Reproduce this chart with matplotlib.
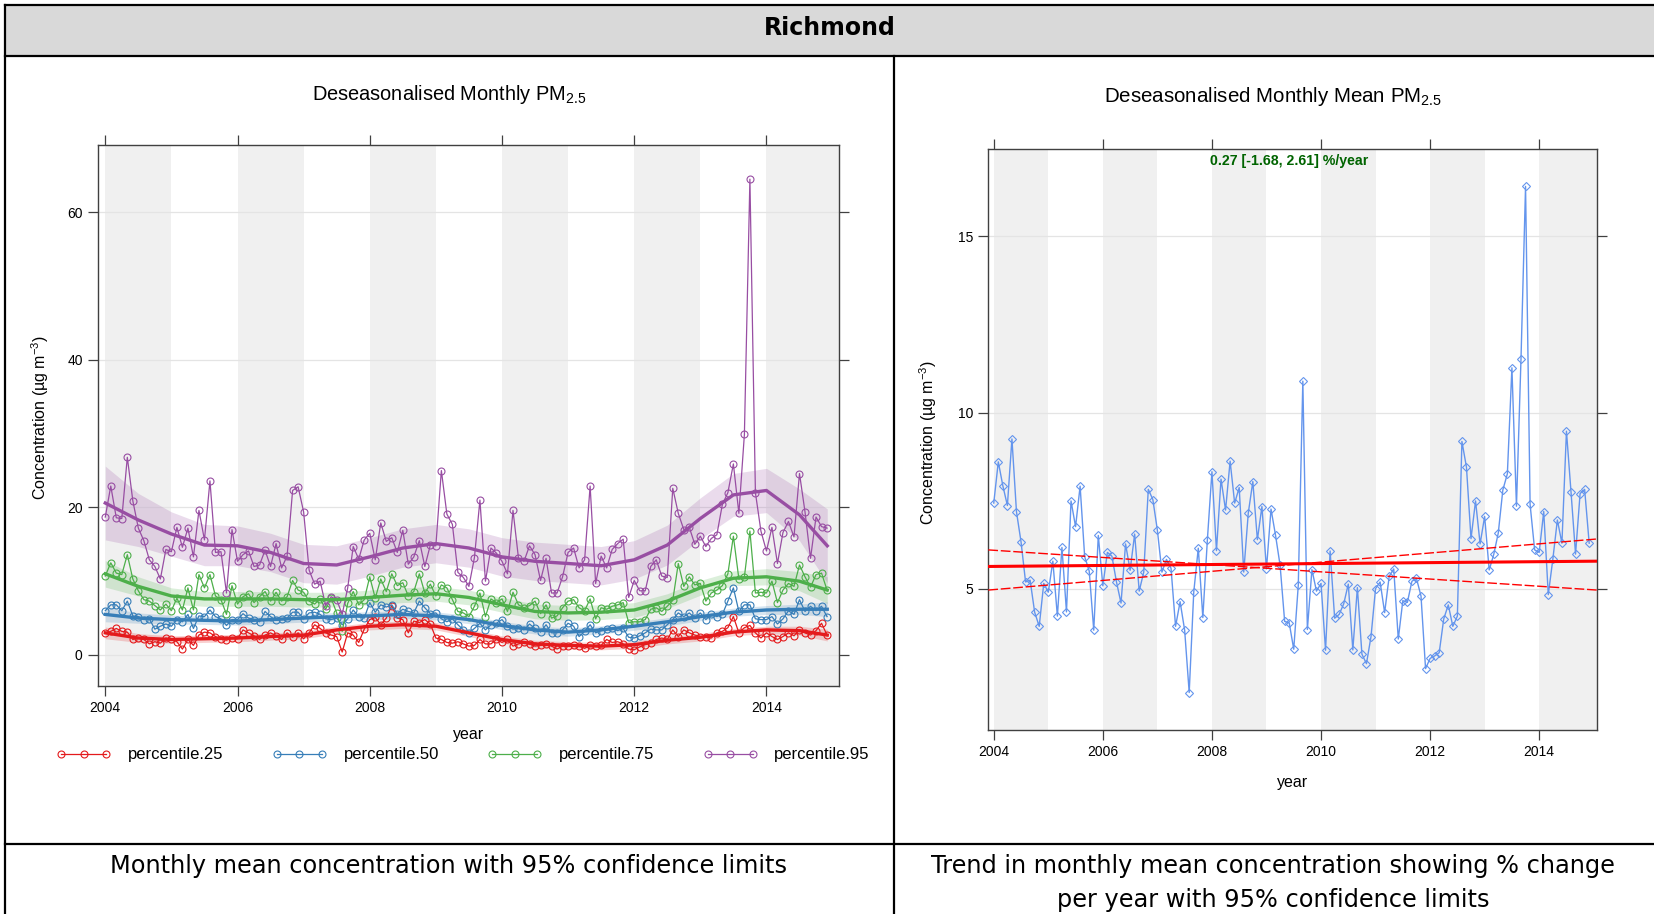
import numpy as np
import matplotlib.pyplot as plt
from matplotlib.lines import Line2D
from matplotlib.patches import Rectangle

plt.rcParams['font.family'] = ['Liberation Sans', 'DejaVu Sans']
plt.rcParams['mathtext.default'] = 'regular'

W, H = 1654, 914

site = "Richmond"
start_year = 2004

# monthly deseasonalised percentiles (ug/m3), Jan 2004 .. Dec 2014
p25 = [3.0, 3.2, 3.6, 3.2, 3.1, 2.1, 2.3, 2.1, 1.5, 1.8, 1.6, 2.3,
       2.1, 1.8, 0.8, 2.1, 1.3, 2.7, 3.1, 3.0, 2.5, 2.2, 2.0, 2.3,
       2.2, 3.4, 3.0, 2.6, 2.1, 2.7, 3.0, 2.6, 2.1, 3.0, 2.4, 3.0,
       2.2, 3.0, 4.1, 3.6, 3.0, 2.7, 2.5, 0.4, 3.0, 2.7, 1.7, 3.5,
       4.8, 5.1, 4.1, 5.0, 6.7, 5.0, 4.8, 3.0, 4.6, 4.4, 4.8, 4.2,
       2.3, 2.1, 1.7, 1.6, 1.8, 1.5, 1.2, 1.3, 2.1, 1.5, 1.5, 2.1,
       1.7, 2.1, 1.2, 1.5, 1.7, 1.5, 1.2, 1.3, 1.5, 1.2, 0.8, 1.2,
       1.2, 1.4, 1.2, 0.9, 1.3, 1.2, 1.3, 2.1, 1.7, 1.8, 1.5, 0.8,
       0.7, 1.1, 1.4, 1.6, 2.1, 2.3, 2.1, 3.4, 2.5, 3.4, 3.0, 2.7,
       2.5, 2.4, 2.3, 3.0, 3.2, 3.7, 5.2, 3.0, 3.7, 4.0, 3.0, 2.3,
       3.0, 2.5, 2.1, 2.5, 3.0, 2.6, 3.4, 3.0, 2.7, 3.3, 4.3, 2.7]
p50 = [6.0, 6.8, 6.8, 6.0, 7.3, 5.3, 5.2, 4.8, 4.9, 3.5, 3.9, 4.2,
       3.9, 4.8, 4.5, 5.5, 3.6, 5.3, 5.2, 6.1, 5.2, 4.9, 4.0, 4.8,
       4.8, 5.6, 5.0, 4.8, 4.5, 5.9, 5.2, 4.7, 4.9, 5.0, 5.8, 5.8,
       4.9, 5.7, 5.8, 5.5, 4.9, 4.8, 5.0, 4.1, 4.9, 6.1, 5.2, 5.0,
       7.1, 5.8, 6.8, 6.5, 6.8, 5.6, 6.2, 5.9, 5.7, 7.3, 6.4, 5.6,
       5.7, 4.9, 4.5, 4.9, 4.1, 3.4, 3.0, 3.6, 4.3, 3.4, 4.1, 4.3,
       4.8, 3.9, 3.5, 3.6, 3.4, 4.2, 3.6, 3.1, 4.1, 3.0, 3.0, 3.4,
       4.3, 3.9, 2.5, 3.2, 4.1, 3.0, 3.3, 3.5, 3.6, 3.3, 3.6, 2.4,
       2.3, 2.6, 3.0, 3.5, 3.4, 3.4, 4.1, 4.8, 5.7, 5.2, 5.7, 5.0,
       5.7, 4.8, 5.5, 5.2, 5.5, 7.3, 9.1, 5.9, 6.8, 6.8, 4.9, 4.8,
       4.8, 5.2, 4.2, 4.9, 6.0, 5.5, 7.5, 5.9, 6.6, 6.0, 6.6, 5.2]
p75 = [10.7, 12.5, 11.1, 10.9, 13.6, 10.3, 8.7, 7.5, 7.3, 6.7, 6.1, 6.9,
       6.0, 7.7, 6.1, 9.1, 6.1, 10.9, 9.1, 10.9, 8.0, 7.5, 5.5, 9.4,
       6.9, 7.9, 8.3, 7.1, 7.9, 8.6, 7.3, 8.5, 7.3, 7.9, 10.1, 8.8,
       8.5, 7.3, 6.9, 7.6, 6.2, 7.7, 5.7, 3.2, 7.0, 8.6, 6.8, 7.5,
       10.6, 7.7, 10.3, 8.6, 11.0, 9.4, 9.8, 8.0, 8.6, 11.0, 8.4, 9.6,
       8.0, 9.5, 9.1, 7.5, 5.9, 5.7, 5.2, 6.6, 8.4, 5.2, 7.6, 7.1,
       7.6, 5.9, 8.5, 6.8, 6.4, 6.7, 7.3, 5.6, 6.8, 5.0, 5.3, 6.4,
       7.3, 7.5, 6.4, 6.0, 7.6, 4.9, 6.4, 6.2, 6.6, 6.8, 7.1, 4.4,
       4.5, 4.5, 4.8, 6.2, 6.4, 5.9, 6.6, 7.4, 12.4, 9.3, 10.6, 9.5,
       9.7, 7.3, 8.4, 8.8, 9.4, 11.0, 16.1, 10.3, 10.6, 16.8, 8.4, 8.5,
       8.4, 10.0, 7.1, 8.8, 9.7, 9.3, 12.2, 10.6, 9.2, 10.9, 11.1, 8.8]
p95 = [18.7, 22.9, 18.6, 18.5, 26.8, 20.9, 17.2, 15.5, 12.9, 12.0, 10.3, 14.3,
       14.0, 17.3, 14.6, 17.2, 13.3, 19.6, 15.6, 23.6, 13.9, 14.0, 8.4, 17.0,
       12.7, 13.6, 14.1, 12.0, 12.2, 14.2, 12.0, 15.1, 11.8, 13.4, 22.3, 22.8,
       19.4, 11.5, 9.6, 10.0, 6.7, 7.9, 7.5, 5.5, 9.1, 14.7, 13.0, 15.6,
       16.5, 12.9, 17.9, 15.4, 15.9, 13.9, 16.9, 12.3, 13.3, 15.5, 12.0, 14.9,
       14.8, 25.0, 19.1, 17.7, 11.2, 10.5, 9.3, 13.2, 21.0, 10.0, 14.5, 13.8,
       12.7, 11.0, 19.6, 13.1, 12.7, 14.8, 13.6, 10.1, 13.1, 8.4, 8.4, 10.6,
       13.9, 14.5, 11.8, 12.9, 22.9, 9.7, 13.4, 11.8, 14.3, 15.1, 15.7, 7.8,
       10.1, 8.7, 8.7, 12.0, 12.9, 10.7, 10.5, 22.6, 19.2, 17.0, 17.3, 15.0,
       16.1, 14.7, 15.8, 16.3, 20.4, 22.0, 25.9, 19.2, 29.9, 64.5, 22.0, 16.8,
       14.1, 17.3, 12.4, 16.6, 18.1, 16.0, 24.6, 19.4, 13.1, 18.7, 17.4, 17.2]

# smooth trend of each percentile, read at half-year steps, with band half widths
knot_years = [2004.0, 2004.5, 2005.0, 2005.5, 2006.0, 2006.5, 2007.0, 2007.5,
              2008.0, 2008.5, 2009.0, 2009.5, 2010.0, 2010.5, 2011.0, 2011.5,
              2012.0, 2012.5, 2013.0, 2013.5, 2014.0, 2014.5, 2014.92]
p25_smooth = [3.0, 2.3, 2.1, 2.2, 2.3, 2.5, 2.7, 3.4, 3.9, 4.1, 3.9, 3.0,
              2.1, 1.5, 1.3, 1.2, 1.4, 2.0, 2.4, 3.1, 3.4, 3.3, 2.7]
p50_smooth = [5.5, 5.0, 4.8, 4.7, 4.6, 4.8, 5.0, 5.2, 5.3, 5.5, 5.3, 4.8,
              4.0, 3.4, 3.1, 3.4, 3.9, 4.5, 5.2, 5.8, 6.1, 6.2, 6.2]
p75_smooth = [11.0, 9.3, 8.0, 7.6, 7.6, 7.6, 7.5, 7.5, 7.8, 8.1, 8.3, 7.8,
              6.8, 5.9, 5.7, 5.8, 6.1, 7.3, 9.1, 10.4, 10.6, 10.0, 8.8]
p95_smooth = [20.6, 18.3, 16.4, 14.9, 14.8, 13.9, 12.4, 12.2, 13.3, 14.5, 15.1, 14.5,
              13.3, 12.7, 12.4, 12.1, 12.9, 14.9, 18.5, 21.7, 22.3, 19.0, 14.8]
p25_band = [0.8, 0.6, 0.5, 0.5, 0.5, 0.5, 0.5, 0.5, 0.5, 0.5, 0.5, 0.5,
            0.5, 0.5, 0.5, 0.5, 0.5, 0.5, 0.5, 0.5, 0.5, 0.6, 0.8]
p50_band = [1.0, 0.7, 0.6, 0.55, 0.55, 0.55, 0.55, 0.55, 0.55, 0.55, 0.55, 0.55,
            0.55, 0.55, 0.55, 0.55, 0.55, 0.55, 0.55, 0.55, 0.6, 0.7, 1.0]
p75_band = [1.8, 1.3, 1.1, 1.0, 1.0, 1.0, 1.0, 1.0, 1.0, 1.0, 1.0, 1.0,
            1.0, 1.0, 1.0, 1.0, 1.0, 1.0, 1.0, 1.0, 1.1, 1.3, 1.8]
p95_band = [5.0, 3.6, 3.0, 2.8, 2.7, 2.6, 2.6, 2.6, 2.6, 2.6, 2.6, 2.6,
            2.6, 2.6, 2.6, 2.6, 2.6, 2.7, 2.8, 2.9, 3.0, 3.5, 5.0]

# deseasonalised monthly mean
mean_conc = [7.43, 8.60, 7.92, 7.36, 9.25, 7.18, 6.33, 5.19, 5.24, 4.33, 3.93, 5.15,
             4.90, 5.78, 4.22, 6.17, 4.34, 7.49, 6.76, 7.91, 5.91, 5.50, 3.82, 6.51,
             5.08, 6.03, 5.92, 5.19, 4.59, 6.27, 5.52, 6.55, 4.93, 5.47, 7.82, 7.53,
             6.66, 5.47, 5.83, 5.58, 3.93, 4.63, 3.82, 2.05, 4.90, 6.15, 4.18, 6.39,
             8.32, 6.08, 8.11, 7.23, 8.62, 7.43, 7.87, 5.47, 7.15, 8.04, 6.39, 7.33,
             5.56, 7.26, 6.51, 5.66, 4.07, 4.03, 3.28, 5.10, 10.89, 3.84, 5.54, 4.93,
             5.15, 3.25, 6.07, 4.16, 4.27, 4.57, 5.13, 3.26, 5.03, 3.14, 2.87, 3.64,
             5.00, 5.19, 4.32, 5.35, 5.56, 3.57, 4.66, 4.61, 5.21, 5.29, 4.79, 2.73,
             3.02, 3.09, 3.18, 4.14, 4.54, 3.93, 4.22, 9.18, 8.45, 6.42, 7.49, 6.27,
             7.05, 5.53, 5.97, 6.58, 7.80, 8.26, 11.27, 7.34, 11.53, 16.42, 7.39, 6.10,
             6.03, 7.19, 4.83, 5.83, 6.95, 6.29, 9.47, 7.75, 5.98, 7.70, 7.82, 6.29]

# Theil-Sen trend and 95% limits at the panel edges
trend_x = [2003.9, 2015.06]
trend_fit = [5.63, 5.78]
trend_lo_slope = [6.10, 4.96]
trend_hi_slope = [4.96, 6.41]
trend_text = "0.27 [-1.68, 2.61] %/year"

months = start_year + np.arange(len(p25)) / 12


def fx(x):
    return x / W


def fy(y):
    return 1 - y / H


def style_axes(ax):
    for s in ax.spines.values():
        s.set_color('#404040')
        s.set_linewidth(1.0)
    ax.tick_params(direction='out', length=7, width=0.9, color='#404040',
                   top=True, right=True, labelsize=10, pad=4)
    ax.grid(axis='y', color='#e4e4e4', lw=0.9)
    ax.set_axisbelow(True)
    for yr in range(2004, 2016, 2):
        ax.axvspan(yr, yr + 1 if yr < 2014 else 2016, color='#f0f0f0', lw=0, zorder=0)
    ax.set_xticks(range(2004, 2016, 2))


fig = plt.figure(figsize=(W / 100, H / 100), dpi=100)

# page frame
fig.add_artist(Rectangle((fx(5), fy(56)), fx(1654) - fx(5), 51 / H,
                         facecolor='#d9d9d9', edgecolor='none', transform=fig.transFigure))
for (x0, y0, x1, y1) in [(5, 5, 1654, 5), (5, 56, 1654, 56), (5, 844, 1654, 844),
                         (5, 5, 5, 914), (894, 56, 894, 914)]:
    fig.add_artist(Line2D([fx(x0), fx(x1)], [fy(y0), fy(y1)], color='black', lw=1.6))
fig.text(fx(830), fy(28), site, ha='center', va='center', fontsize=17,
         fontweight='bold', family='DejaVu Sans')

fig.text(fx(449), fy(866), "Monthly mean concentration with 95% confidence limits",
         ha='center', va='center', fontsize=17.3, family='DejaVu Sans')
fig.text(fx(1273), fy(866), "Trend in monthly mean concentration showing % change",
         ha='center', va='center', fontsize=17.3, family='DejaVu Sans')
fig.text(fx(1273), fy(900), "per year with 95% confidence limits",
         ha='center', va='center', fontsize=17.3, family='DejaVu Sans')

# left panel: percentiles
ax1 = fig.add_axes([fx(98), fy(685.6), 740.5 / W, 541.1 / H])
style_axes(ax1)
series = [(p25, p25_smooth, p25_band, '#E41A1C', 'percentile.25'),
          (p50, p50_smooth, p50_band, '#377EB8', 'percentile.50'),
          (p75, p75_smooth, p75_band, '#4DAF4A', 'percentile.75'),
          (p95, p95_smooth, p95_band, '#984EA3', 'percentile.95')]
for vals, sm, bw, col, lab in series:
    sm = np.array(sm)
    bw = np.array(bw)
    ax1.fill_between(knot_years, sm - bw, sm + bw, color=col, alpha=0.2, lw=0, zorder=1)
handles = []
for vals, sm, bw, col, lab in series:
    h, = ax1.plot(months, vals, color=col, lw=0.9, marker='o', ms=5, mfc='none',
                  mew=0.8, zorder=2, label=lab)
    handles.append(h)
for vals, sm, bw, col, lab in series:
    ax1.plot(knot_years, sm, color=col, lw=2.4, zorder=3, solid_joinstyle='round')
ax1.set_xlim(2003.89, 2015.09)
ax1.set_ylim(-4.15, 69.2)
ax1.set_yticks([0, 20, 40, 60])
ax1.set_xlabel('year', fontsize=11.5)
ax1.xaxis.set_label_coords(0.5, -0.091)
ax1.xaxis.label.set_va('center')
ax1.set_ylabel('Concentration (µg m$^{-3}$)', fontsize=11.5)
ax1.yaxis.set_label_coords(-0.078, 0.496)
ax1.yaxis.label.set_va('center')
ax1.legend(handles=handles, loc='center', bbox_to_anchor=(0.493, -0.128), ncol=4,
           frameon=False, numpoints=3, handlelength=3.3, handletextpad=1.0,
           columnspacing=2.9, fontsize=12)
fig.text(fx(449), fy(94), 'Deseasonalised Monthly PM$_{2.5}$', ha='center',
         va='center', fontsize=14.4)

# right panel: trend in mean
ax2 = fig.add_axes([fx(988.3), fy(729.9), 608.7 / W, 581.2 / H])
style_axes(ax2)
ax2.plot(months, mean_conc, color='#6495ED', lw=1.0, marker='D', ms=3.8,
         mfc='none', mew=0.8, zorder=2)
ax2.plot(trend_x, trend_fit, color='red', lw=2.2, zorder=3)
ax2.plot(trend_x, trend_lo_slope, color='red', lw=1.0, ls=(0, (7, 2)), zorder=3)
ax2.plot(trend_x, trend_hi_slope, color='red', lw=1.0, ls=(0, (7, 2)), zorder=3)
ax2.set_xlim(2003.90, 2015.06)
ax2.set_ylim(0.99, 17.49)
ax2.set_yticks([5, 10, 15])
ax2.text(0.494, 0.979, trend_text, transform=ax2.transAxes, ha='center', va='center',
         fontsize=10.2, fontweight='bold', color='darkgreen')
ax2.set_xlabel('year', fontsize=11.5)
ax2.xaxis.set_label_coords(0.5, -0.091)
ax2.xaxis.label.set_va('center')
ax2.set_ylabel('Concentration (µg m$^{-3}$)', fontsize=11.5)
ax2.yaxis.set_label_coords(-0.099, 0.494)
ax2.yaxis.label.set_va('center')
fig.text(fx(1273), fy(96), 'Deseasonalised Monthly Mean PM$_{2.5}$', ha='center',
         va='center', fontsize=14.8)

fig.savefig('out.png', dpi=100)
